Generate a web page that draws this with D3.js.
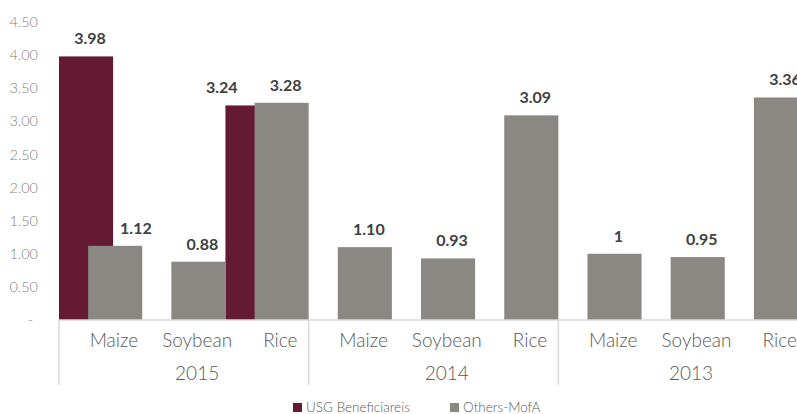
<!DOCTYPE html>
<html lang="en">
<head>
<meta charset="utf-8">
<script src="https://cdnjs.cloudflare.com/ajax/libs/d3/7.8.5/d3.min.js"></script>
<style>
  body { margin: 0; background: #ffffff; }
  svg { display: block; font-family: Lato, "Open Sans", sans-serif; }
</style>
</head>
<body>
<svg id="chart"></svg>
<script>
// chart data
var years = ["2015", "2014", "2013"];
var crops = ["Maize", "Soybean", "Rice"];
var usgValues = [3.98, null, 3.24, null, null, null, null, null, null];
var usgLabels = ["3.98", "", "3.24", "", "", "", "", "", ""];
var othersValues = [1.12, 0.88, 3.28, 1.10, 0.93, 3.09, 1.00, 0.95, 3.36];
var othersLabels = ["1.12", "0.88", "3.28", "1.10", "0.93", "3.09", "1", "0.95", "3.36"];
var yTicks = [0, 0.5, 1, 1.5, 2, 2.5, 3, 3.5, 4, 4.5];
var seriesNames = ["USG Beneficiareis", "Others-MofA"];
var seriesColors = ["#631a32", "#8b8883"];

var width = 797, height = 414;
var svg = d3.select("#chart").attr("width", width).attr("height", height);

var slots = d3.range(years.length * crops.length);
var x = d3.scaleBand().domain(slots).range([59, 808]).padding(0);
var y = d3.scaleLinear().domain([0, 4.5]).range([320, 22]);
var w = x.bandwidth();
var barW = w * 0.65;
var shift = w * 0.16; // excel pushes the axis text a bit to the right

// y axis labels
svg.append("g").selectAll("text")
  .data(yTicks)
  .enter().append("text")
  .attr("x", function(d) { return d === 0 ? 33 : 38; })
  .attr("y", function(d) { return y(d); })
  .attr("dy", "0.35em")
  .attr("text-anchor", "end")
  .attr("font-size", 14.5)
  .attr("font-weight", 300)
  .attr("fill", "#7f7f7f")
  .text(function(d) { return d === 0 ? "-" : d.toFixed(2); });

// usg bars go first, others sit on top of them
svg.append("g").selectAll("rect")
  .data(slots.filter(function(i) { return usgValues[i] != null; }))
  .enter().append("rect")
  .attr("x", function(i) { return x(i); })
  .attr("y", function(i) { return y(usgValues[i]); })
  .attr("width", barW)
  .attr("height", function(i) { return y(0) - y(usgValues[i]); })
  .attr("fill", seriesColors[0]);

svg.append("g").selectAll("rect")
  .data(slots)
  .enter().append("rect")
  .attr("x", function(i) { return x(i) + w - barW; })
  .attr("y", function(i) { return y(othersValues[i]); })
  .attr("width", barW)
  .attr("height", function(i) { return y(0) - y(othersValues[i]); })
  .attr("fill", seriesColors[1]);

// data labels, moved aside when the other bar is in the way
var lbl = svg.append("g")
  .attr("font-size", 16)
  .attr("font-weight", "bold")
  .attr("fill", "#404040");

slots.forEach(function(i) {
  var u = usgValues[i];
  var o = othersValues[i];
  if (u != null) {
    var t = lbl.append("text").attr("y", y(u) - 12).text(usgLabels[i]);
    if (o > u) {
      t.attr("x", x(i) + w - barW - 17).attr("text-anchor", "end");
    } else {
      t.attr("x", x(i) + barW / 2 + 4).attr("text-anchor", "middle");
    }
  }
  var t2 = lbl.append("text").attr("y", y(o) - 12).text(othersLabels[i]);
  if (u != null && u > o) {
    t2.attr("x", x(i) + barW + 7).attr("text-anchor", "start");
  } else {
    t2.attr("x", x(i) + w - barW / 2 + 4).attr("text-anchor", "middle");
  }
});

// category axis
svg.append("line")
  .attr("x1", x.range()[0]).attr("x2", x.range()[1])
  .attr("y1", y(0)).attr("y2", y(0))
  .attr("stroke", "#d9d9d9").attr("stroke-width", 1.5);

var groups = d3.range(years.length);
svg.append("g").selectAll("line")
  .data(groups.concat([years.length]))
  .enter().append("line")
  .attr("x1", function(g) { return x.range()[0] + g * w * crops.length; })
  .attr("x2", function(g) { return x.range()[0] + g * w * crops.length; })
  .attr("y1", y(0)).attr("y2", 385)
  .attr("stroke", "#d9d9d9").attr("stroke-width", 1.5);

svg.append("g").selectAll("text")
  .data(slots)
  .enter().append("text")
  .attr("x", function(i) { return x(i) + w / 2 + shift; })
  .attr("y", 347)
  .attr("text-anchor", "middle")
  .attr("font-size", 19)
  .attr("font-weight", 300)
  .attr("fill", "#595959")
  .text(function(i) { return crops[i % crops.length]; });

svg.append("g").selectAll("text")
  .data(groups)
  .enter().append("text")
  .attr("x", function(g) {
    var a = x.range()[0] + g * w * crops.length;
    var b = Math.min(a + w * crops.length, width);
    return (a + b) / 2 + shift;
  })
  .attr("y", 380)
  .attr("text-anchor", "middle")
  .attr("font-size", 19)
  .attr("font-weight", 300)
  .attr("fill", "#595959")
  .text(function(g) { return years[g]; });

// legend
var legendX = [293, 450];
var leg = svg.append("g").selectAll("g")
  .data(seriesNames)
  .enter().append("g")
  .attr("transform", function(d, i) { return "translate(" + legendX[i] + ",403)"; });
leg.append("rect")
  .attr("width", 9).attr("height", 9)
  .attr("fill", function(d, i) { return seriesColors[i]; });
leg.append("text")
  .attr("x", 13).attr("y", 9)
  .attr("font-size", 13.5)
  .attr("font-weight", 300)
  .attr("fill", "#595959")
  .text(function(d) { return d; });
</script>
</body>
</html>
